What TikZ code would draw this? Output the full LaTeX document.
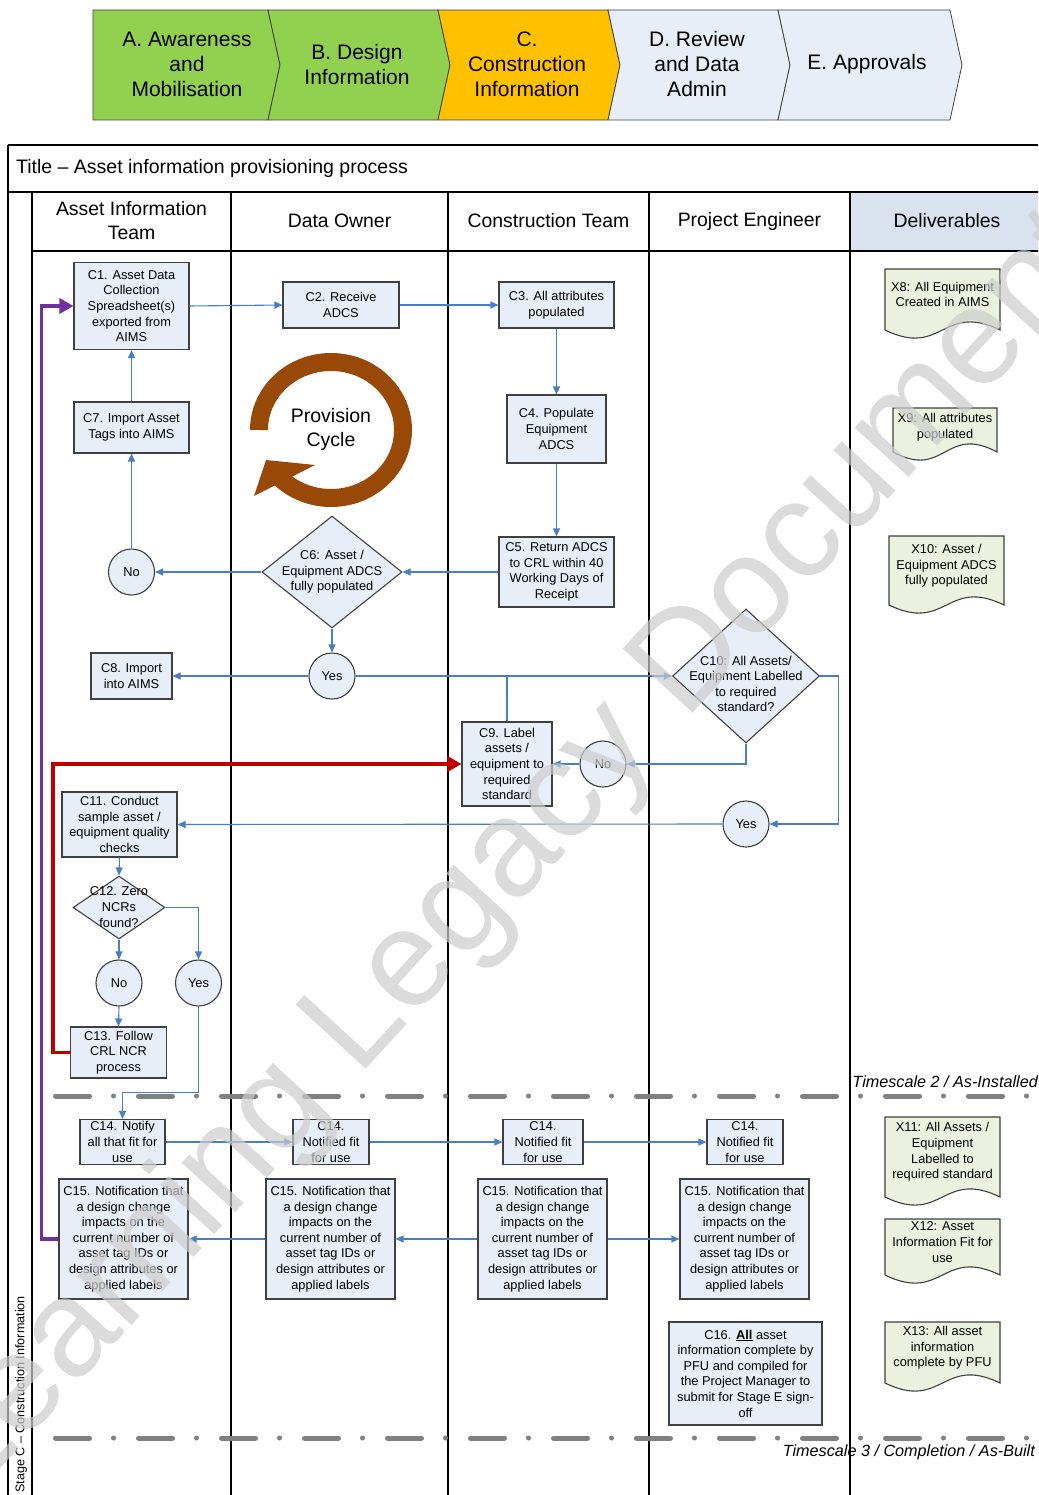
\documentclass[tikz,border=0pt]{standalone}
\usepackage{fontspec}
\setmainfont{Liberation Sans}
\usetikzlibrary{arrows.meta,shapes.geometric,calc}
\definecolor{boxfill}{HTML}{E7EEF8}
\definecolor{boxline}{HTML}{404040}
\definecolor{flowc}{HTML}{4A7EC0}
\definecolor{docfill}{HTML}{EBF1DE}
\definecolor{hdrfill}{HTML}{D9E2EE}
\definecolor{chgreen}{HTML}{92D050}
\definecolor{chorange}{HTML}{FFC000}
\definecolor{chlight}{HTML}{E8EEF8}
\definecolor{cyclebrown}{HTML}{984807}
\definecolor{purp}{HTML}{7030A0}
\definecolor{redline}{HTML}{C00000}
\definecolor{tsgray}{HTML}{808080}
\newcommand\docshape[4]{%
  \filldraw[doc] (#1,#2) -- (#3,#2) -- (#3,#4) .. controls ({#3-0.5*(#3-#1)},{#4-28}) and ({#1+0.5*(#3-#1)},{#4+28}) .. (#1,#4) -- cycle;}
\begin{document}
\begin{tikzpicture}[x=1pt,y=-1pt,
  box/.style={draw=boxline, fill=boxfill, line width=1.1pt, inner sep=0pt, align=center, font=\fontsize{12.8}{15.6}\selectfont},
  circ/.style={circle, draw=boxline, fill=boxfill, line width=1.1pt, minimum size=46pt, inner sep=0pt, font=\fontsize{12.8}{15.6}\selectfont},
  dia/.style={diamond, draw=boxline, fill=boxfill, line width=1.1pt, inner sep=0pt},
  txt/.style={align=center, inner sep=0pt, font=\fontsize{12.8}{15.6}\selectfont},
  flowarrow/.style={draw=flowc, line width=1.1pt, -{Triangle[length=8pt,width=7pt]}},
  flowline/.style={draw=flowc, line width=1.1pt},
  lane/.style={draw=black, line width=1.1pt},
  hdr/.style={align=center, inner sep=0pt, font=\fontsize{19.4}{24}\selectfont},
  chev/.style={draw=boxline, line width=0.8pt},
  chevtext/.style={align=center, inner sep=0pt, font=\fontsize{21}{25}\selectfont},
  doc/.style={draw=boxline, fill=docfill, line width=1.1pt},
  tsline/.style={draw=tsgray, line width=5pt, line cap=round, dash pattern=on 34pt off 24pt on 0pt off 25pt},
  tslabel/.style={inner sep=0pt, font=\itshape\fontsize{16.2}{19}\selectfont},
]
\useasboundingbox (0,0) rectangle (1038,1495);
\clip (0,0) rectangle (1038,1495);
\fill[white] (0,0) rectangle (1038,1495);

% ---- chevrons ----
\filldraw[chev, fill=chgreen] (93,10) -- (268,10) -- (280,65) -- (268,120) -- (93,120) -- cycle;
\filldraw[chev, fill=chgreen] (268,10) -- (438,10) -- (450,65) -- (438,120) -- (268,120) -- (280,65) -- cycle;
\filldraw[chev, fill=chorange] (438,10) -- (608,10) -- (620,65) -- (608,120) -- (438,120) -- (450,65) -- cycle;
\filldraw[chev, fill=chlight] (608,10) -- (778,10) -- (790,65) -- (778,120) -- (608,120) -- (620,65) -- cycle;
\filldraw[chev, fill=chlight] (778,10) -- (950,10) -- (962,65) -- (950,120) -- (778,120) -- (790,65) -- cycle;
\node[chevtext] (chA) at (187,64) {A. Awareness\\and\\Mobilisation};
\node[chevtext] (chB) at (357,64) {B. Design\\Information};
\node[chevtext] (chC) at (527,64) {C.\\Construction\\Information};
\node[chevtext] (chD) at (697,64) {D. Review\\and Data\\Admin};
\node[chevtext] (chE) at (867,64) {E. Approvals};

% ---- pool ----
\fill[hdrfill] (850,192) rectangle (1038,251);
\draw[lane] (8,145) -- (1040,145);
\draw[lane] (8,145) -- (8,1497);
\draw[lane] (8,192) -- (1040,192);
\draw[lane] (32,192) -- (32,1497);
\draw[lane] (32,251) -- (1040,251);
\foreach \lx in {231,448,649,850} \draw[lane] (\lx,192) -- (\lx,1497);
\node[anchor=west, inner sep=0pt, font=\fontsize{19.5}{24}\selectfont] (title) at (16,168) {Title -- Asset information provisioning process};
\node[hdr] (hAIT) at (131.5,221) {Asset Information\\Team};
\node[hdr] (hDO) at (339.5,221) {Data Owner};
\node[hdr] (hCT) at (548.5,221) {Construction Team};
\node[hdr] (hPE) at (749.5,221) {Project Engineer};
\node[hdr] (hDel) at (947,221) {Deliverables};
\node[rotate=90, anchor=west, inner sep=0pt, font=\fontsize{12.6}{15}\selectfont] (stage) at (21,1493) {Stage C -- Construction Information};

% ---- provision cycle ----
\begin{scope}[shift={(331,430)}, y=1pt]
  \draw[cyclebrown, line width=18pt] (-72,0) arc[start angle=180, end angle=-136, x radius=72, y radius=68];
\end{scope}
\fill[cyclebrown] (266,460) -- (315,465) -- (254,496) -- cycle;
\node[align=center, inner sep=0pt, font=\fontsize{19.5}{24}\selectfont] (pc) at (331,429) {Provision\\Cycle};

% ---- timescale lines ----
\draw[tsline] (55.5,1096) -- (1045,1096);
\draw[tsline] (55.5,1438) -- (1045,1438);
\node[tslabel, anchor=east] (ts2) at (1038,1082) {Timescale 2 / As-Installed};
\node[tslabel, anchor=east] (ts3) at (1035,1452) {Timescale 3 / Completion / As-Built};

% ---- process nodes ----
\node[box, minimum width=115pt, minimum height=87pt] (C1) at (131.5,306) {C1. Asset Data\\Collection\\Spreadsheet(s)\\exported from\\AIMS};
\node[box, minimum width=116pt, minimum height=46pt] (C2) at (341,305) {C2. Receive\\ADCS};
\node[box, minimum width=115pt, minimum height=46pt] (C3) at (556.5,305) {C3. All attributes\\populated};
\node[box, minimum width=99pt, minimum height=68pt] (C4) at (556.5,429) {C4. Populate\\Equipment\\ADCS};
\node[box, minimum width=115pt, minimum height=70pt] (C5) at (556.5,572) {C5. Return ADCS\\to CRL within 40\\Working Days of\\Receipt};
\node[box, minimum width=115pt, minimum height=51pt] (C7) at (131.5,427.5) {C7. Import Asset\\Tags into AIMS};
\node[circ] (No1) at (131.5,572) {No};
\node[dia, minimum width=140pt, minimum height=112pt] (C6) at (332,572) {};
\node[txt] (C6t) at (332,572) {C6: Asset /\\Equipment ADCS\\fully populated};
\node[circ] (Yes1) at (332,676) {Yes};
\node[box, minimum width=81pt, minimum height=46pt] (C8) at (131.5,676) {C8. Import\\into AIMS};
\node[dia, minimum width=147pt, minimum height=134pt] (C10) at (746,676) {};
\node[txt] (C10t) at (746,684) {C10: All Assets/\\Equipment Labelled\\to required\\standard?};
\node[box, minimum width=90pt, minimum height=84pt] (C9) at (507,764) {C9. Label\\assets /\\equipment to\\required\\standard};
\node[circ] (No2) at (603,764) {No};
\node[circ] (Yes2) at (746,824) {Yes};
\node[box, minimum width=115pt, minimum height=65pt] (C11) at (119.5,824.5) {C11. Conduct\\sample asset /\\equipment quality\\checks};
\node[dia, minimum width=92pt, minimum height=63pt] (C12) at (119,907.5) {};
\node[txt] (C12t) at (119,907) {C12. Zero\\NCRs\\found?};
\node[circ] (No3) at (119,983) {No};
\node[circ] (Yes3) at (198.5,983) {Yes};
\node[box, minimum width=96pt, minimum height=51pt] (C13) at (118.5,1052.5) {C13. Follow\\CRL NCR\\process};
\node[box, minimum width=85pt, minimum height=45pt] (C14a) at (122.5,1142) {C14. Notify\\all that fit for\\use};
\node[box, minimum width=76pt, minimum height=45pt] (C14b) at (331,1142) {C14.\\Notified fit\\for use};
\node[box, minimum width=80pt, minimum height=45pt] (C14c) at (543,1142) {C14.\\Notified fit\\for use};
\node[box, minimum width=76pt, minimum height=45pt] (C14d) at (745,1142) {C14.\\Notified fit\\for use};
\node[box, minimum width=129pt, minimum height=120pt] (C15a) at (123.5,1239) {C15. Notification that\\a design change\\impacts on the\\current number of\\asset tag IDs or\\design attributes or\\applied labels};
\node[box, minimum width=129pt, minimum height=120pt] (C15b) at (330.5,1239) {C15. Notification that\\a design change\\impacts on the\\current number of\\asset tag IDs or\\design attributes or\\applied labels};
\node[box, minimum width=129pt, minimum height=120pt] (C15c) at (542.5,1239) {C15. Notification that\\a design change\\impacts on the\\current number of\\asset tag IDs or\\design attributes or\\applied labels};
\node[box, minimum width=129pt, minimum height=120pt] (C15d) at (744.5,1239) {C15. Notification that\\a design change\\impacts on the\\current number of\\asset tag IDs or\\design attributes or\\applied labels};
\node[box, minimum width=153pt, minimum height=103pt] (C16) at (745.5,1373.5) {C16. \underline{\textbf{All}} asset\\information complete by\\PFU and compiled for\\the Project Manager to\\submit for Stage E sign-\\off};

% ---- deliverables ----
\docshape{885}{269}{1000}{330}
\node[txt] (X8) at (942.5,294.5) {X8: All Equipment\\Created in AIMS};
\docshape{893}{408}{997}{452}
\node[txt] (X9) at (945,427) {X9: All attributes\\populated};
\docshape{889}{536}{1004}{605}
\node[txt] (X10) at (946.5,566) {X10: Asset /\\Equipment ADCS\\fully populated};
\docshape{885}{1117}{1000}{1197}
\node[txt] (X11) at (942.5,1152) {X11: All Assets /\\Equipment\\Labelled to\\required standard};
\docshape{885}{1219}{1000}{1275}
\node[txt] (X12) at (942.5,1242) {X12: Asset\\Information Fit for\\use};
\docshape{885}{1322}{1000}{1383}
\node[txt] (X13) at (942.5,1348) {X13: All asset\\information\\complete by PFU};

% ---- connectors ----
\draw[flowarrow] (C1.east) -- (C2.west);
\draw[flowarrow] (C2.east) -- (C3.west);
\draw[flowarrow] (C3.south) -- (C4.north);
\draw[flowarrow] (C4.south) -- (C5.north);
\draw[flowarrow] (C5.west) -- (C6.east);
\draw[flowarrow] (C6.west) -- (No1.east);
\draw[flowarrow] (No1.north) -- (C7.south);
\draw[flowarrow] (C7.north) -- (C1.south);
\draw[flowarrow] (C6.south) -- (Yes1.north);
\draw[flowarrow] (Yes1.west) -- (C8.east);
\draw[flowarrow] (Yes1.east) -- (C10.west);
\draw[flowline] (C9.north) -- (C9.north |- Yes1.east);
\draw[flowarrow] (C10.south) |- (No2.east);
\draw[flowarrow] (No2.west) -- (C9.east);
\draw[flowarrow] (C10.east) -- ++(18,0) |- (Yes2.east);
\draw[flowarrow] (Yes2.west) -- (C11.east);
\draw[flowarrow] (C11.south) -- (C12.north);
\draw[flowarrow] (C12.south) -- (No3.north);
\draw[flowarrow] (C12.east) -| (Yes3.north);
\draw[flowarrow] (No3.south) -- (C13.north);
\draw[flowarrow] (Yes3.south) -- ++(0,86) -| (C14a.north);
\draw[flowarrow] (C14a.east) -- (C14b.west);
\draw[flowarrow] (C14b.east) -- (C14c.west);
\draw[flowarrow] (C14c.east) -- (C14d.west);
\draw[flowarrow] (C15c.east) -- (C15d.west);
\draw[flowarrow] (C15c.west) -- (C15b.east);
\draw[flowarrow] (C15b.west) -- (C15a.east);
\draw[purp, line width=3.5pt, -{Triangle[length=14pt,width=15pt]}] (C15a.west) -- ++(-17,0) |- (C1.west);
\draw[redline, line width=3.8pt, -{Triangle[length=14pt,width=15pt]}] (C13.west) -- ++(-17,0) |- (C9.west);

% ---- watermark ----
\node[rotate=47.5, anchor=base west, inner sep=0pt, text=black!20, text opacity=0.7, font=\fontsize{138}{140}\selectfont] (wm) at (-30,1502) {Learning Legacy Document};
\end{tikzpicture}
\end{document}
